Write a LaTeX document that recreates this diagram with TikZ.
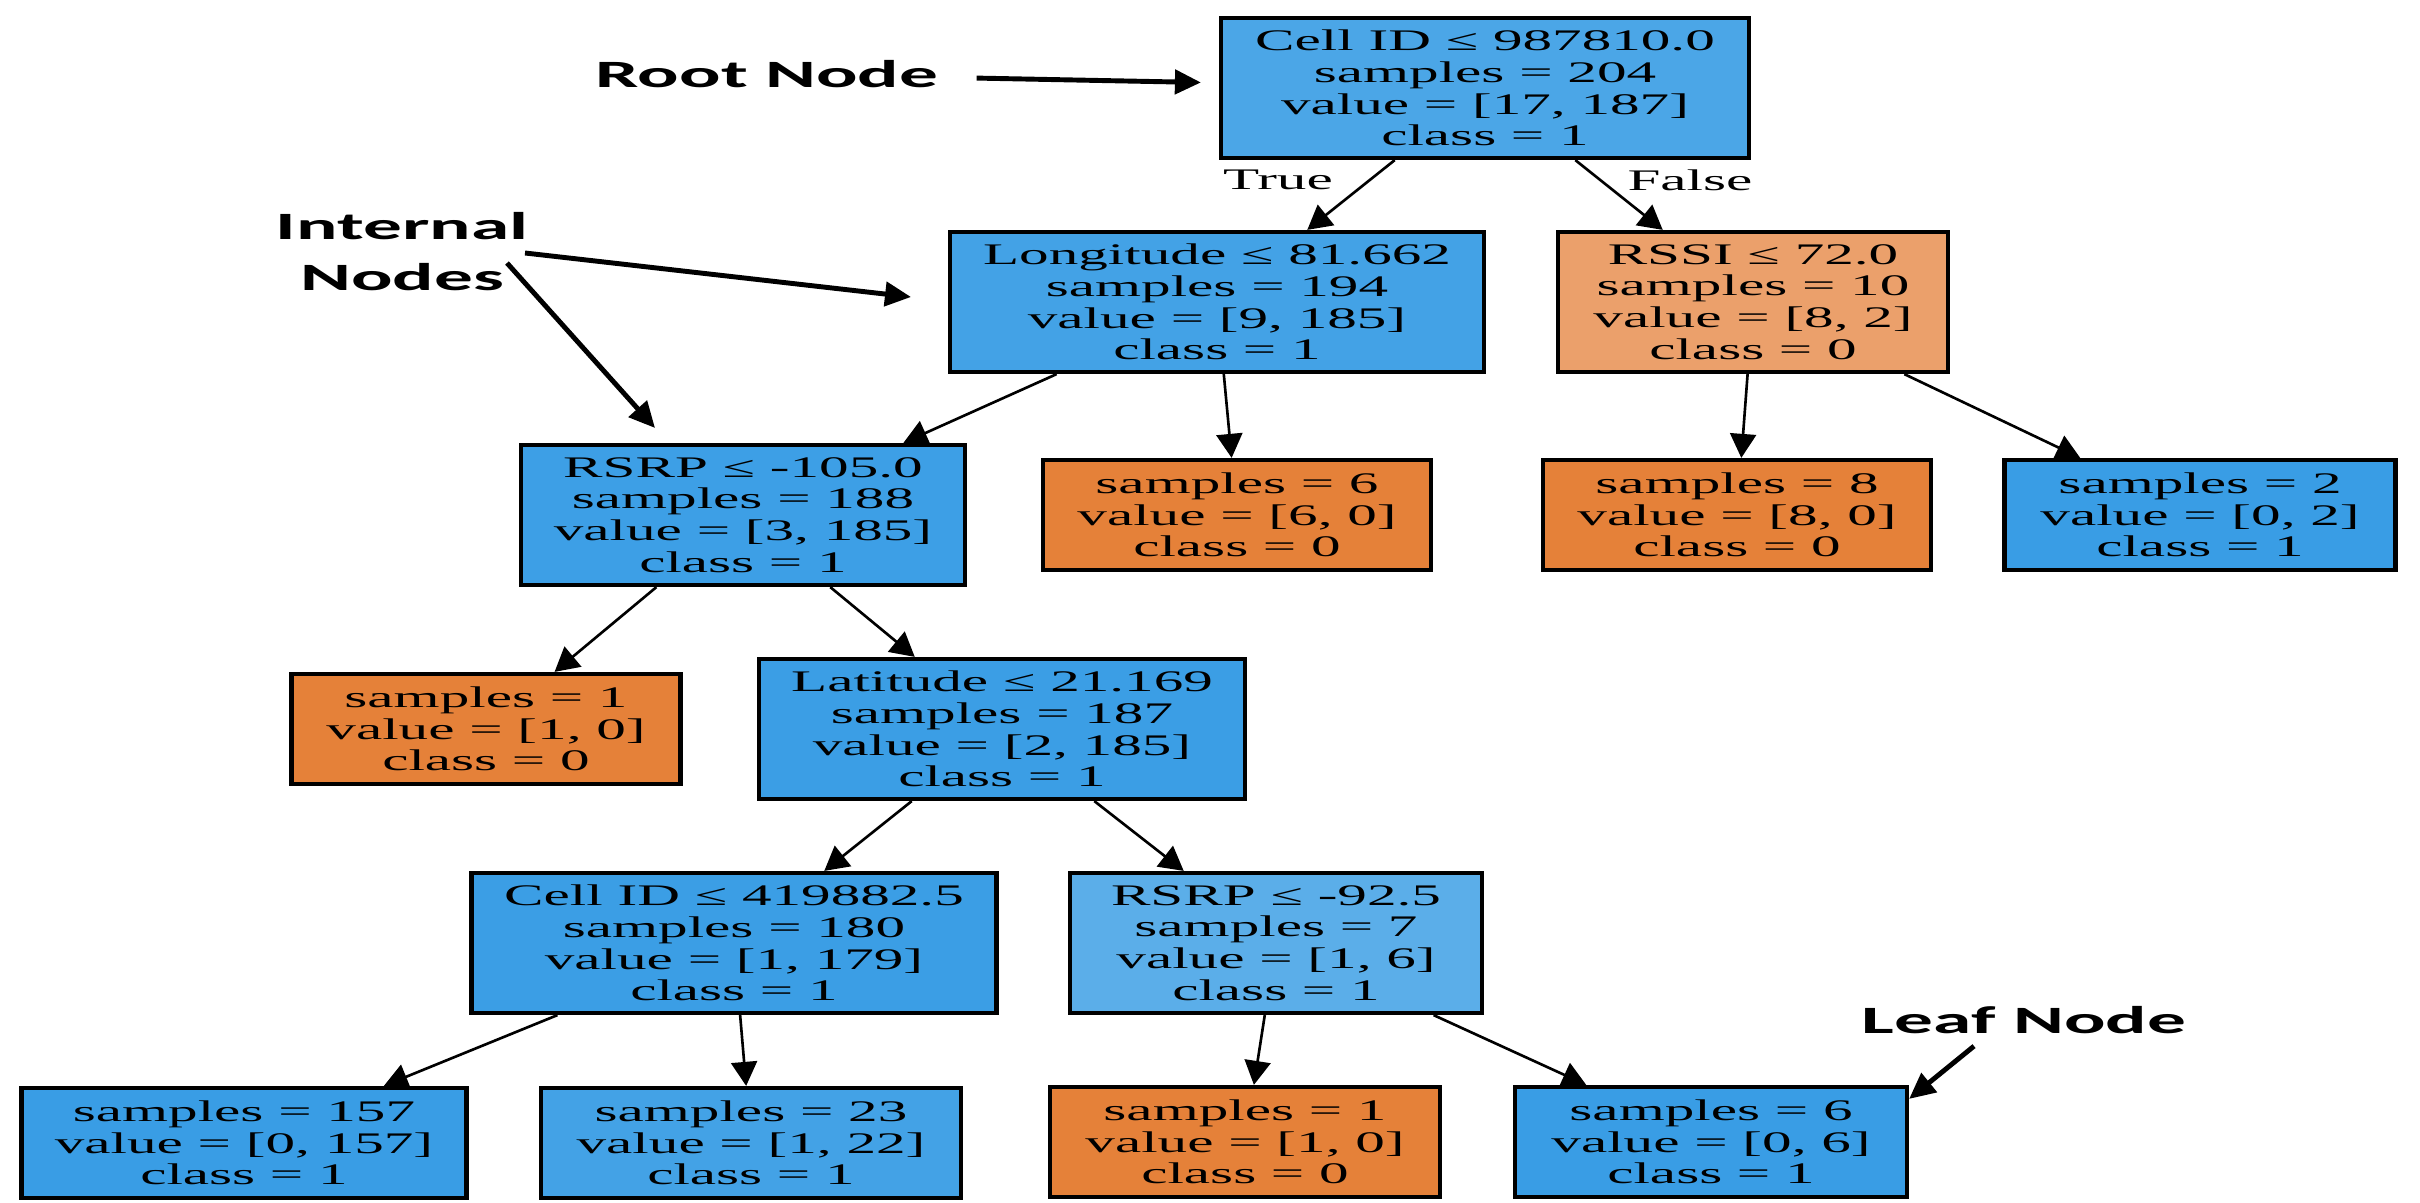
\documentclass[tikz,border=0pt]{standalone}
\usepackage{fontspec}
\setmainfont{Liberation Serif}[FakeStretch=1.98]
\newfontfamily\notefont{Carlito}[FakeStretch=2.0]
\usetikzlibrary{arrows.meta}
\definecolor{clsblue}{HTML}{399DE5}
\definecolor{clsorange}{HTML}{E58139}

\begin{document}
\begin{tikzpicture}[
        x=0.1mm, y=-0.1mm,
        tbox/.style={draw, rectangle, line width=1.2pt, align=center, inner sep=0pt,
            font=\fontsize{8.5}{9}\selectfont, minimum height=1.4cm},
        leaf/.style={tbox, minimum height=1.1cm},
        edge/.style={-{Triangle[length=0.24cm, width=0.26cm]}, line width=0.75pt},
        note/.style={font=\notefont\bfseries\fontsize{11}{14.5}\selectfont, align=center},
        pointer/.style={-{Triangle[length=0.26cm, width=0.24cm]}, line width=1.4pt}
    ]
        \useasboundingbox (0,0) rectangle (2420,1203);

        % Các nút của cây
        \node [tbox, fill=clsblue!91, minimum width=5.28cm] (root) at (1485,88)
            {Cell ID ≤ 987810.0\\samples = 204\\value = [17, 187]\\class = 1};
        \node [tbox, fill=clsblue!95, minimum width=5.34cm] (L1) at (1217,302)
            {Longitude ≤ 81.662\\samples = 194\\value = [9, 185]\\class = 1};
        \node [tbox, fill=clsorange!75, minimum width=3.90cm] (S1) at (1753,302)
            {RSSI ≤ 72.0\\samples = 10\\value = [8, 2]\\class = 0};
        \node [tbox, fill=clsblue!98, minimum width=4.44cm] (R1) at (743,515)
            {RSRP ≤ -105.0\\samples = 188\\value = [3, 185]\\class = 1};
        \node [leaf, fill=clsorange, minimum width=3.88cm] (A1) at (1237,515)
            {samples = 6\\value = [6, 0]\\class = 0};
        \node [leaf, fill=clsorange, minimum width=3.88cm] (B1) at (1737,515)
            {samples = 8\\value = [8, 0]\\class = 0};
        \node [leaf, fill=clsblue, minimum width=3.91cm] (B2) at (2200,515)
            {samples = 2\\value = [0, 2]\\class = 1};
        \node [leaf, fill=clsorange, minimum width=3.89cm] (A2) at (486,729)
            {samples = 1\\value = [1, 0]\\class = 0};
        \node [tbox, fill=clsblue!99, minimum width=4.86cm] (T1) at (1002,729)
            {Latitude ≤ 21.169\\samples = 187\\value = [2, 185]\\class = 1};
        \node [tbox, fill=clsblue!99, minimum width=5.25cm] (C2) at (734,943)
            {Cell ID ≤ 419882.5\\samples = 180\\value = [1, 179]\\class = 1};
        \node [tbox, fill=clsblue!83, minimum width=4.12cm] (R2) at (1276,943)
            {RSRP ≤ -92.5\\samples = 7\\value = [1, 6]\\class = 1};
        \node [leaf, fill=clsblue, minimum width=4.45cm] (E1) at (244,1143)
            {samples = 157\\value = [0, 157]\\class = 1};
        \node [leaf, fill=clsblue!95, minimum width=4.20cm] (E2) at (751,1143)
            {samples = 23\\value = [1, 22]\\class = 1};
        \node [leaf, fill=clsorange, minimum width=3.90cm] (E3) at (1245,1142)
            {samples = 1\\value = [1, 0]\\class = 0};
        \node [leaf, fill=clsblue, minimum width=3.92cm] (E4) at (1711,1142)
            {samples = 6\\value = [0, 6]\\class = 1};

        % Các cạnh
        \draw[edge] (root) -- (L1);
        \draw[edge] (root) -- (S1);
        \draw[edge] (L1) -- (R1);
        \draw[edge] (L1) -- (A1);
        \draw[edge] (S1) -- (B1);
        \draw[edge] (S1) -- (B2);
        \draw[edge] (R1) -- (A2);
        \draw[edge] (R1) -- (T1);
        \draw[edge] (T1) -- (C2);
        \draw[edge] (T1) -- (R2);
        \draw[edge] (C2) -- (E1);
        \draw[edge] (C2) -- (E2);
        \draw[edge] (R2) -- (E3);
        \draw[edge] (R2) -- (E4);

        \node [font=\fontsize{8.5}{9}\selectfont] (yes) at (1278,180) {True};
        \node [font=\fontsize{8.5}{9}\selectfont] (no) at (1690,180) {False};

        % Chú thích
        \node [note] (rootnote) at (767,74) {Root Node};
        \node [note] (innote) at (402,252) {Internal\\Nodes};
        \node [note] (leafnote) at (2024,1020) {Leaf Node};
        \coordinate (tipL) at (911,297);
        \coordinate (tipR) at (655,428);

        \draw[pointer, shorten <=0.26cm, shorten >=0.18cm] (rootnote) -- (root);
        \draw[pointer] (525,253) -- (tipL);
        \draw[pointer] (507,263) -- (tipR);
        \draw[pointer] ([xshift=-0.5cm]leafnote.south) -- ([yshift=-0.14cm]E4.north east);
    \end{tikzpicture}
\end{document}
